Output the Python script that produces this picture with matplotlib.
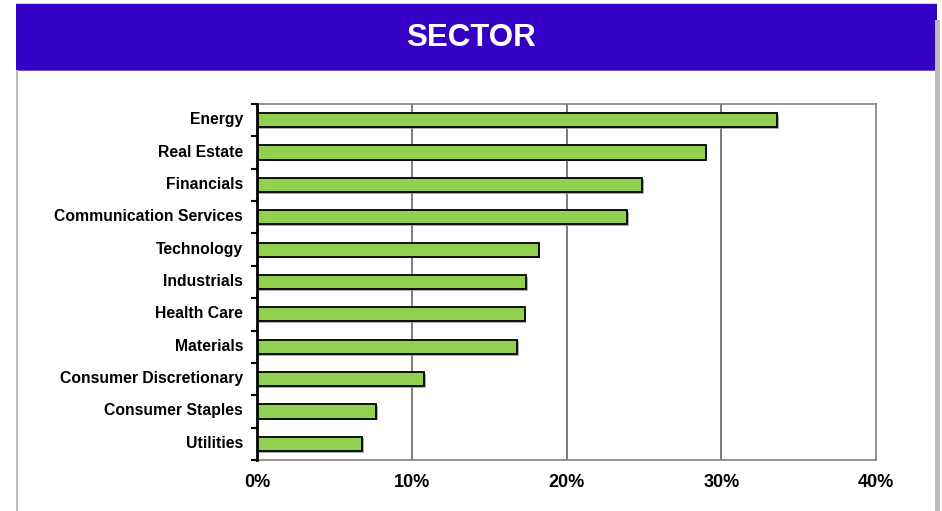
import matplotlib
matplotlib.use("Agg")
import matplotlib.pyplot as plt
from matplotlib.patches import Rectangle
from matplotlib.ticker import FixedLocator, NullFormatter
import matplotlib.patheffects as pe
import matplotlib.transforms as mtrans
import numpy as np

plt.rcParams['font.family'] = ['Liberation Sans', 'DejaVu Sans']

sectors = ["Energy", "Real Estate", "Financials", "Communication Services",
           "Technology", "Industrials", "Health Care", "Materials",
           "Consumer Discretionary", "Consumer Staples", "Utilities"]
weights = [33.6, 29.0, 24.9, 23.9, 18.2, 17.4, 17.3, 16.8, 10.8, 7.7, 6.8]
xticks = [0, 10, 20, 30, 40]
xtick_labels = ["0%", "10%", "20%", "30%", "40%"]
title = "SECTOR"

W, H = 942, 511
fig = plt.figure(figsize=(W/100, H/100), dpi=100)
fig.patch.set_facecolor("white")

# banner
fig.patches.append(Rectangle((16/W, 1-70/H), (937-16)/W, 66/H, transform=fig.transFigure,
                             facecolor="#3300C4", edgecolor="none", zorder=0))
fig.patches.append(Rectangle((16/W, 1-71/H), (937-16)/W, 1.2/H, transform=fig.transFigure,
                             facecolor="#6A4FD8", edgecolor="none", zorder=0))
fig.patches.append(Rectangle((16/W, 1-4.5/H), (937-16)/W, 1.0/H, transform=fig.transFigure,
                             facecolor="#CFCFE0", edgecolor="none", zorder=0))
# side borders
fig.patches.append(Rectangle((16/W, 0), 2/W, 1-70/H, transform=fig.transFigure,
                             facecolor="#BDBDBD", edgecolor="none", zorder=0))
fig.patches.append(Rectangle((935/W, 0), 5/W, 1-20/H, transform=fig.transFigure,
                             facecolor="#BBBBBB", edgecolor="none", zorder=0))
fig.text(471/W, 1-38/H, title, color="white", fontsize=22.5, fontweight="bold",
         ha="center", va="center")

ax = fig.add_axes([257/W, 1-460/H, (876-257)/W, (460-104)/H])
n = len(sectors)
y = np.arange(n)
bars = ax.barh(y, weights, height=0.44, color="#92D050", edgecolor="black",
               linewidth=1.3, zorder=3)
for b in bars:
    b.set_path_effects([pe.SimplePatchShadow(offset=(1.2, -1.2), shadow_rgbFace="#9a9a9a", alpha=0.8),
                        pe.Normal()])
ax.set_ylim(n-0.5, -0.5)
ax.set_xlim(0, 40)
ax.set_xticks(xticks)
ax.set_xticklabels(xtick_labels, fontsize=13, fontweight="bold")
ax.tick_params(axis="x", length=0, pad=10)
ax.set_yticks(y)
ax.set_yticklabels(sectors, fontsize=11.3, fontweight="bold")
ax.tick_params(axis="y", which="major", length=0, pad=10)
shift = mtrans.ScaledTranslation(0, 2/100, fig.dpi_scale_trans)
for lbl in ax.get_yticklabels():
    lbl.set_transform(lbl.get_transform() + shift)
ax.yaxis.set_minor_locator(FixedLocator(np.arange(-0.5, n, 1.0)))
ax.yaxis.set_minor_formatter(NullFormatter())
ax.tick_params(axis="y", which="minor", length=4, width=1.5, direction="out", color="black")
for xv in xticks[1:-1]:
    ax.axvline(xv, color="#666666", linewidth=1.2, zorder=1)
for s in ["top", "right", "bottom"]:
    ax.spines[s].set_color("#808080")
    ax.spines[s].set_linewidth(1.2)
ax.spines["left"].set_color("black")
ax.spines["left"].set_linewidth(2)
ax.spines["left"].set_zorder(5)

fig.savefig("out.png", dpi=100, facecolor="white")
